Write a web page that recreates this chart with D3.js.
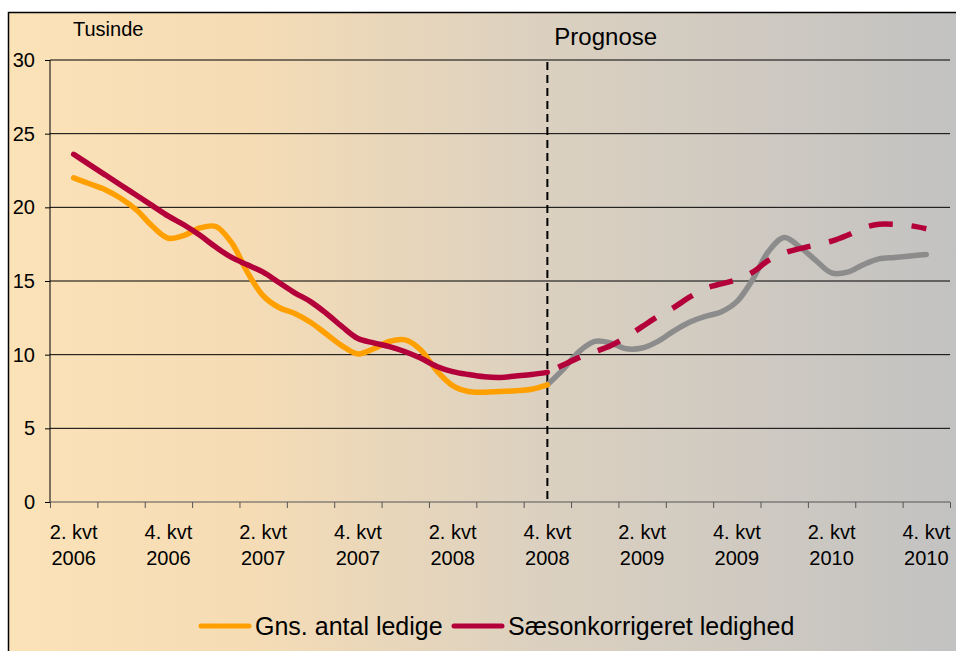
<!DOCTYPE html>
<html>
<head>
<meta charset="utf-8">
<script src="https://cdn.jsdelivr.net/npm/d3@7"></script>
<style>
  body { margin: 0; background: #fff; }
  text { font-family: "Liberation Sans", Arial, sans-serif; fill: #000; }
</style>
</head>
<body>
<svg id="chart" width="956" height="651"></svg>
<script>
// quarters on the category axis, Q2 2006 .. Q4 2010
const quarters = ['2. kvt 2006', '3. kvt 2006', '4. kvt 2006', '1. kvt 2007', '2. kvt 2007', '3. kvt 2007',
  '4. kvt 2007', '1. kvt 2008', '2. kvt 2008', '3. kvt 2008', '4. kvt 2008', '1. kvt 2009', '2. kvt 2009',
  '3. kvt 2009', '4. kvt 2009', '1. kvt 2010', '2. kvt 2010', '3. kvt 2010', '4. kvt 2010'];
const yTicks = [0, 5, 10, 15, 20, 25, 30];

// monthly values (thousands), first value = middle of 2. kvt 2006
const actual = [22.0, 21.6, 21.2, 20.6, 19.8, 18.7, 17.9, 18.1, 18.6, 18.7, 17.6, 15.6, 14.0, 13.2, 12.8,
  12.2, 11.4, 10.6, 10.05, 10.4, 10.9, 11.0, 10.3, 8.9, 7.9, 7.5, 7.45, 7.5, 7.55, 7.65, 7.95];
const seasonal = [23.6, 22.9, 22.2, 21.5, 20.8, 20.1, 19.4, 18.8, 18.1, 17.3, 16.6, 16.1, 15.6, 14.9, 14.2,
  13.6, 12.8, 11.9, 11.1, 10.8, 10.55, 10.2, 9.75, 9.2, 8.85, 8.65, 8.5, 8.45, 8.55, 8.65, 8.8];
// forecast, starting at the last observed month
const forecastActual = [7.95, 9.0, 10.2, 10.9, 10.8, 10.4, 10.45, 10.9, 11.6, 12.2, 12.6, 12.9, 13.6, 15.1,
  17.0, 17.95, 17.3, 16.4, 15.55, 15.6, 16.1, 16.5, 16.6, 16.7, 16.8];
const forecastSeasonal = [8.8, 9.3, 9.8, 10.2, 10.6, 11.2, 11.9, 12.6, 13.2, 13.9, 14.5, 14.8, 15.1, 15.6,
  16.4, 16.9, 17.2, 17.45, 17.7, 18.1, 18.6, 18.85, 18.85, 18.75, 18.55];

const forecastStart = actual.length - 1;
const series = ['Gns. antal ledige', 'Sæsonkorrigeret ledighed'];
const colors = { actual: '#ffa000', seasonal: '#b4003a', forecast: '#8c8c8c' };

const svg = d3.select('#chart');
const margin = { left: 50, right: 6, top: 60, bottom: 149 };
const width = +svg.attr('width');
const height = +svg.attr('height');
const innerWidth = width - margin.left - margin.right;
const innerHeight = height - margin.top - margin.bottom;

// frame with gradient background (runs off the right and bottom edge)
const grad = svg.append('defs').append('linearGradient')
  .attr('id', 'bg').attr('x1', '0%').attr('x2', '100%');
grad.append('stop').attr('offset', '0%').attr('stop-color', '#fbe2b7');
grad.append('stop').attr('offset', '25%').attr('stop-color', '#f5dcb5');
grad.append('stop').attr('offset', '55%').attr('stop-color', '#dcd1c0');
grad.append('stop').attr('offset', '100%').attr('stop-color', '#c2c2c2');

svg.append('rect')
  .attr('x', 8.5).attr('y', 12.5)
  .attr('width', width).attr('height', height)
  .attr('fill', 'url(#bg)')
  .attr('stroke', '#000').attr('stroke-width', 1.5);

const g = svg.append('g')
  .attr('transform', `translate(${margin.left},${margin.top})`);

// months: -1.5 is the left edge of the first quarter
const xScale = d3.scaleLinear()
  .domain([-1.5, quarters.length * 3 - 1.5])
  .range([0, innerWidth]);
const yScale = d3.scaleLinear()
  .domain([0, 30])
  .range([innerHeight, 0]);

// grid
g.append('g')
  .selectAll('line').data(yTicks.slice(1))
  .enter().append('line')
  .attr('x1', 0).attr('x2', innerWidth)
  .attr('y1', d => yScale(d)).attr('y2', d => yScale(d))
  .attr('stroke', '#000').attr('stroke-width', 1);

// y axis
const yAxis = d3.axisLeft(yScale)
  .tickValues(yTicks)
  .tickSize(5)
  .tickPadding(10);
const yAxisG = g.append('g').call(yAxis);
yAxisG.selectAll('text').style('font-size', '20px');
yAxisG.selectAll('line, path').attr('stroke', '#000');
yAxisG.select('.domain').attr('d', `M0,${innerHeight}V0`);

// x axis: ticks at quarter boundaries
const xAxis = d3.axisBottom(xScale)
  .tickValues(d3.range(quarters.length + 1).map(i => i * 3 - 1.5))
  .tickSize(6)
  .tickFormat('');
const xAxisG = g.append('g')
  .attr('transform', `translate(0,${innerHeight})`)
  .call(xAxis);
xAxisG.selectAll('line, path').attr('stroke', '#555');
xAxisG.select('.domain').attr('d', `M0,0H${innerWidth}`);

// category labels, every second quarter
const labelled = quarters.map((q, i) => ({ q, m: i * 3 })).filter((d, i) => i % 2 === 0);
const lab = g.append('g').selectAll('text').data(labelled)
  .enter().append('text')
  .attr('text-anchor', 'middle')
  .style('font-size', '20px')
  .attr('transform', d => `translate(${xScale(d.m)},${innerHeight + 37})`);
lab.append('tspan').attr('x', 0).attr('y', 0).text(d => d.q.slice(0, 6));
lab.append('tspan').attr('x', 0).attr('y', 26).text(d => d.q.slice(7));

g.append('text')
  .attr('x', 23).attr('y', -24)
  .style('font-size', '20px')
  .text('Tusinde');

// forecast marker
g.append('line')
  .attr('x1', xScale(forecastStart)).attr('x2', xScale(forecastStart))
  .attr('y1', 2).attr('y2', innerHeight)
  .attr('stroke', '#000').attr('stroke-width', 2)
  .attr('stroke-dasharray', '8,5');

g.append('text')
  .attr('x', xScale(forecastStart) + 7).attr('y', -15)
  .style('font-size', '24px')
  .text('Prognose');

// lines
const line = offset => d3.line()
  .x((d, i) => xScale(i + offset))
  .y(d => yScale(d))
  .curve(d3.curveCatmullRom.alpha(0.5));

const lineW = 5.5;
g.append('path').datum(forecastActual)
  .attr('d', line(forecastStart))
  .attr('fill', 'none').attr('stroke', colors.forecast)
  .attr('stroke-width', lineW).attr('stroke-linecap', 'round');
g.append('path').datum(forecastSeasonal)
  .attr('d', line(forecastStart))
  .attr('fill', 'none').attr('stroke', colors.seasonal)
  .attr('stroke-width', lineW)
  .attr('stroke-dasharray', '24,19').attr('stroke-dashoffset', 31);
g.append('path').datum(actual)
  .attr('d', line(0))
  .attr('fill', 'none').attr('stroke', colors.actual)
  .attr('stroke-width', lineW).attr('stroke-linecap', 'round');
g.append('path').datum(seasonal)
  .attr('d', line(0))
  .attr('fill', 'none').attr('stroke', colors.seasonal)
  .attr('stroke-width', lineW).attr('stroke-linecap', 'round');

// legend
const legend = svg.append('g').attr('transform', 'translate(201,626)');
const legendItems = [
  { name: series[0], color: colors.actual, x: 0 },
  { name: series[1], color: colors.seasonal, x: 253 }
];
const li = legend.selectAll('g').data(legendItems)
  .enter().append('g')
  .attr('transform', d => `translate(${d.x},0)`);
li.append('line')
  .attr('x1', 0).attr('x2', 48)
  .attr('stroke', d => d.color)
  .attr('stroke-width', 5).attr('stroke-linecap', 'round');
li.append('text')
  .attr('x', 54).attr('y', 9)
  .style('font-size', '25px')
  .text(d => d.name);
</script>
</body>
</html>
